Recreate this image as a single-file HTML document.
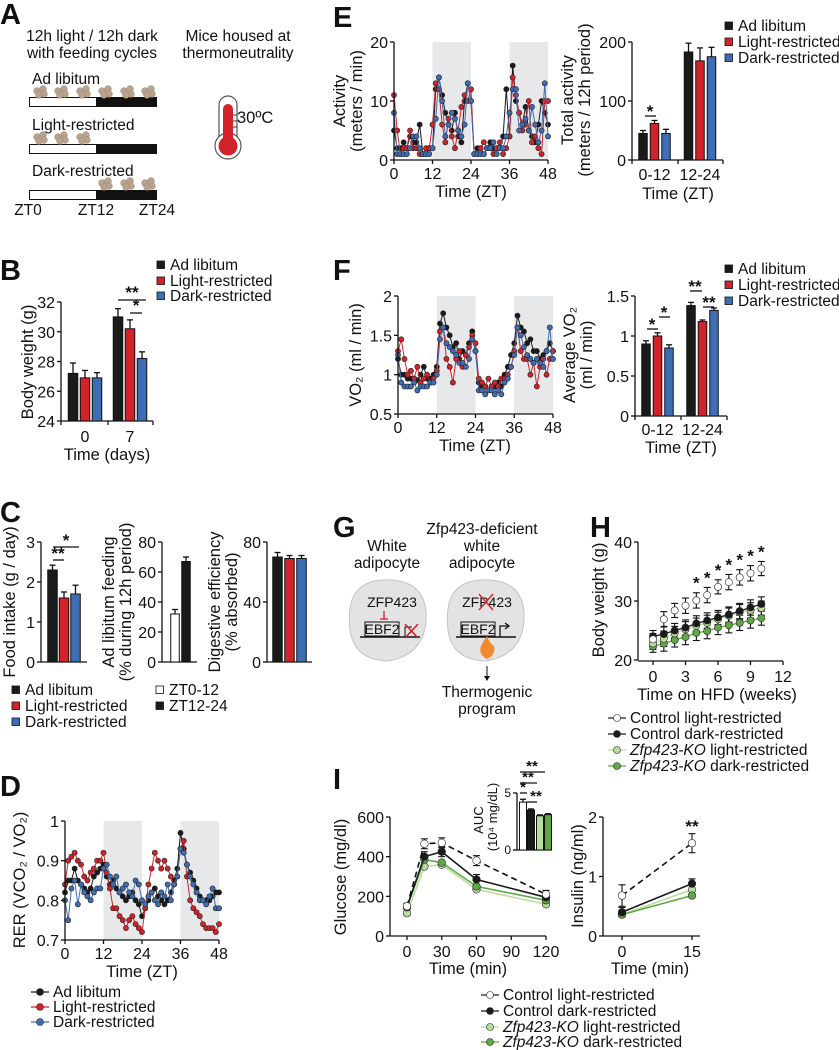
<!DOCTYPE html>
<html><head><meta charset="utf-8">
<style>
html,body{margin:0;padding:0;background:#fff;}
svg{display:block;font-family:"Liberation Sans",Arial,sans-serif;}
</style></head>
<body>
<svg id="fig" width="839" height="1050" viewBox="0 0 839 1050">
<rect x="0" y="0" width="839" height="1050" fill="#fff"/>
<!-- Panel A -->
<g font-size="15.5" fill="#111">
  <text x="0" y="24" font-size="29" font-weight="bold">A</text>
  <text x="92" y="41" text-anchor="middle">12h light / 12h dark</text>
  <text x="92" y="58" text-anchor="middle">with feeding cycles</text>
  <text x="238" y="41" text-anchor="middle">Mice housed at</text>
  <text x="238" y="58" text-anchor="middle">thermoneutrality</text>
  <text x="32" y="84">Ad libitum</text>
  <text x="32" y="130">Light-restricted</text>
  <text x="32" y="176">Dark-restricted</text>
  <g>
    <rect x="29.5" y="97.5" width="67" height="9" fill="#fff" stroke="#111"/>
    <rect x="96" y="97" width="61" height="10" fill="#111"/>
  </g>
  <g>
    <rect x="29.5" y="144.5" width="67" height="9" fill="#fff" stroke="#111"/>
    <rect x="96" y="144" width="61" height="10" fill="#111"/>
  </g>
  <g>
    <rect x="29.5" y="190.5" width="67" height="9" fill="#fff" stroke="#111"/>
    <rect x="96" y="190" width="61" height="10" fill="#111"/>
  </g>
  <g id="food"></g>
  <text x="28" y="215" text-anchor="middle">ZT0</text>
  <text x="96" y="215" text-anchor="middle">ZT12</text>
  <text x="157" y="215" text-anchor="middle">ZT24</text>
  <g>
    <rect x="219" y="96" width="18" height="50" rx="9" fill="#fff" stroke="#555" stroke-width="1.2"/>
    <circle cx="228" cy="146" r="13" fill="#fff" stroke="#555" stroke-width="1.2"/>
    <rect x="223" y="104" width="10" height="44" rx="5" fill="#d2232a"/>
    <circle cx="228" cy="146" r="9.5" fill="#d2232a"/>
    <line x1="233" y1="115" x2="237" y2="115" stroke="#333"/>
    <line x1="233" y1="121" x2="237" y2="121" stroke="#333"/>
    <line x1="233" y1="127" x2="237" y2="127" stroke="#333"/>
  </g>
  <text x="237" y="123" font-size="16.5">30ºC</text>
</g>
<!-- Panel G static -->
<g font-size="15.5" fill="#111">
  <text x="333" y="537" font-size="29" font-weight="bold">G</text>
  <text x="387" y="551" text-anchor="middle">White</text>
  <text x="387" y="568" text-anchor="middle">adipocyte</text>
  <text x="482" y="534" text-anchor="middle">Zfp423-deficient</text>
  <text x="482" y="551" text-anchor="middle">white</text>
  <text x="482" y="568" text-anchor="middle">adipocyte</text>
  <path d="M352,600 Q360,578 392,580 Q428,583 426,620 Q424,655 388,661 Q354,660 350,630 Q348,612 352,600Z" fill="#e3e3e3" stroke="#c4c4c4"/>
  <path d="M450,600 Q458,578 490,580 Q526,583 524,620 Q522,655 486,661 Q452,660 448,630 Q446,612 450,600Z" fill="#e3e3e3" stroke="#c4c4c4"/>
  <text x="392" y="607" text-anchor="middle" font-size="14">ZFP423</text>
  <line x1="384" y1="611" x2="384" y2="619" stroke="#d2232a" stroke-width="1.3"/>
  <line x1="380" y1="619" x2="388" y2="619" stroke="#d2232a" stroke-width="1.3"/>
  <rect x="365" y="622" width="34" height="14" fill="none" stroke="#111"/>
  <text x="382" y="634" text-anchor="middle" font-size="14">EBF2</text>
  <line x1="360" y1="637" x2="420" y2="637" stroke="#111" stroke-width="1.5"/>
  <path d="M405,637 V627 H412" fill="none" stroke="#111"/>
  <path d="M405,624 L418,638 M418,624 L405,638" stroke="#d2232a" stroke-width="1.6"/>
  <text x="487" y="607" text-anchor="middle" font-size="14">ZFP423</text>
  <path d="M479,594 L493,610 M493,594 L479,610" stroke="#d2232a" stroke-width="1.4"/>
  <rect x="461" y="622" width="34" height="14" fill="none" stroke="#111"/>
  <text x="478" y="634" text-anchor="middle" font-size="14">EBF2</text>
  <line x1="456" y1="637" x2="516" y2="637" stroke="#111" stroke-width="1.5"/>
  <path d="M500,637 V626 H508 M505,623 L509,626 L505,629" fill="none" stroke="#111" stroke-width="1.3"/>
  <path d="M487,659 Q478,654 481,646 Q484,640 487,636 Q490,644 494,646 Q496,655 487,659Z" fill="#f08a2c"/>
  <line x1="487" y1="666" x2="487" y2="680" stroke="#111"/>
  <path d="M484,676 L487,681 L490,676Z" fill="#111"/>
  <text x="487" y="697" text-anchor="middle">Thermogenic</text>
  <text x="487" y="714" text-anchor="middle">program</text>
</g>
</svg>
<script>
// ---------- DATA ----------
const bwDays = ['0','7'];
const bwAdLib = [27.2, 31.0];
const bwLight = [26.9, 30.2];
const bwDark = [26.9, 28.2];
const bwErrAd = [0.7, 0.55];
const bwErrLight = [0.5, 0.6];
const bwErrDark = [0.35, 0.45];

const foodIntake = [2.3, 1.6, 1.7];
const foodIntakeErr = [0.12, 0.15, 0.22];
const adLibFeeding = [32, 67];
const adLibFeedingErr = [3, 3];
const digestEff = [70, 69, 69];
const digestEffErr = [3, 2, 2];

const ZT = [0,1,2,3,4,5,6,7,8,9,10,11,12,13,14,15,16,17,18,19,20,21,22,23,24,25,26,27,28,29,30,31,32,33,34,35,36,37,38,39,40,41,42,43,44,45,46,47,48];
const rerAd = [0.82,0.85,0.85,0.88,0.85,0.84,0.83,0.82,0.83,0.86,0.87,0.88,0.89,0.86,0.84,0.85,0.83,0.82,0.81,0.8,0.81,0.82,0.8,0.79,0.76,0.78,0.8,0.82,0.83,0.81,0.8,0.79,0.8,0.82,0.85,0.88,0.97,0.93,0.89,0.87,0.85,0.83,0.81,0.8,0.8,0.8,0.81,0.82,0.82];
const rerLight = [0.84,0.9,0.91,0.92,0.9,0.89,0.86,0.85,0.87,0.88,0.9,0.9,0.92,0.87,0.83,0.78,0.78,0.76,0.75,0.73,0.75,0.76,0.74,0.73,0.72,0.78,0.84,0.88,0.92,0.9,0.88,0.9,0.88,0.86,0.84,0.86,0.93,0.95,0.86,0.8,0.78,0.77,0.76,0.74,0.73,0.73,0.73,0.72,0.74];
const rerDark = [0.8,0.75,0.83,0.85,0.79,0.84,0.82,0.81,0.8,0.82,0.83,0.83,0.88,0.89,0.86,0.84,0.86,0.82,0.83,0.84,0.82,0.81,0.85,0.84,0.8,0.79,0.81,0.82,0.8,0.79,0.82,0.81,0.84,0.8,0.84,0.86,0.93,0.92,0.89,0.86,0.84,0.82,0.8,0.8,0.79,0.81,0.83,0.78,0.78];

const actAd = [5,2,2,3,2,4,3,3,6,1,1,2,2,12,14,11,8,6,5,8,4,3,10,13,10,1,2,2,1,2,3,2,2,2,4,12,4,16,10,8,6,9,5,4,3,6,10,8,6];
const actLight = [11,5,1,2,2,5,2,2,1,1,2,2,6,13,12,6,3,7,4,2,5,9,11,10,12,1,1,2,3,2,2,1,2,3,1,2,4,14,11,8,5,6,10,3,4,2,1,10,10];
const actDark = [8,1,1,1,1,2,4,4,2,1,1,1,2,7,14,10,4,6,8,7,5,4,6,13,10,1,1,1,1,2,2,3,1,2,2,4,8,12,12,5,6,7,5,9,6,3,5,13,4];
const totActAd = [45, 183];
const totActLight = [62, 168];
const totActDark = [45, 175];
const totActErrAd = [5, 15];
const totActErrLight = [5, 22];
const totActErrDark = [7, 16];

const vo2Ad = [1.2,1.0,1.0,0.95,0.95,0.95,0.93,1.0,1.1,0.95,0.95,1.0,1.1,1.65,1.78,1.6,1.5,1.35,1.4,1.2,1.3,1.25,1.4,1.55,1.3,0.9,0.85,0.85,0.8,0.85,0.85,0.9,0.85,1.0,1.1,1.25,1.4,1.75,1.6,1.55,1.4,1.45,1.3,1.3,1.2,1.25,1.3,1.4,1.3];
const vo2Light = [1.3,1.45,1.2,1.0,1.05,0.95,1.1,0.9,0.95,1.0,0.9,0.95,1.05,1.55,1.6,1.2,1.1,0.9,1.2,1.3,1.1,1.25,1.35,1.5,1.4,0.95,0.9,0.85,0.95,0.85,0.9,0.85,0.95,0.95,1.0,1.1,1.3,1.6,1.3,1.2,1.2,1.0,1.15,0.85,1.1,1.2,1.0,1.2,1.3];
const vo2Dark = [1.25,0.9,0.85,0.85,0.85,0.9,0.8,0.85,0.85,0.85,0.9,0.9,1.0,1.45,1.6,1.4,1.35,1.3,1.25,1.15,1.15,1.1,1.2,1.45,1.3,0.8,0.8,0.75,0.8,0.8,0.75,0.8,0.75,0.9,0.95,1.1,1.25,1.6,1.5,1.35,1.25,1.2,1.15,1.2,1.15,1.1,1.3,1.6,1.2];
const avgVo2Ad = [0.9, 1.38];
const avgVo2Light = [1.0, 1.18];
const avgVo2Dark = [0.85, 1.32];
const avgVo2ErrAd = [0.04, 0.04];
const avgVo2ErrLight = [0.04, 0.02];
const avgVo2ErrDark = [0.04, 0.03];

const hfdWeeks = [0,1,2,3,4,5,6,7,8,9,10];
const hCtrlLight = [23.5,26.9,28.4,29.2,30.1,31.0,32.4,33.2,34.0,34.7,35.5];
const hCtrlDark = [24.0,24.4,25.0,25.5,26.2,26.7,27.2,27.7,28.3,28.9,29.5];
const hKoLight = [22.8,23.6,24.5,25.2,25.8,26.3,26.9,27.5,28.1,28.4,28.8];
const hKoDark = [22.3,22.8,23.4,23.9,24.6,24.9,25.5,25.9,26.3,26.7,27.1];
const hErr = [1.0,1.3,1.2,1.3,1.3,1.3,1.2,1.3,1.3,1.3,1.2];
const hStarWeeks = [4,5,6,7,8,9,10];

const gttTimes = [0,15,30,60,120];
const gCtrlLight = [150,465,470,380,210];
const gCtrlDark = [148,400,425,285,195];
const gKoLight = [115,350,360,235,160];
const gKoDark = [145,385,370,250,180];
const gErr = [15,25,25,25,20];
const aucVals = [4.2, 3.5, 3.0, 3.1];
const aucErr = [0.25, 0.1, 0.08, 0.08];

const insTimes = [0,15];
const iCtrlLight = [0.68,1.56];
const iCtrlDark = [0.4,0.88];
const iKoLight = [0.36,0.78];
const iKoDark = [0.36,0.68];
const iErr = [0.18,0.16];

// ---------- HELPERS ----------
const NS='http://www.w3.org/2000/svg';
const svg=document.getElementById('fig');
const BLK='#1a1a1a', RED='#d2232a', BLU='#3f6db3', LG='#b8dd9e', GR='#5fa845', SHADE='#e7e8ea';
const TF=16.5, LF=15.5, KF=16;
function el(tag, attrs, name, parent){
  const e=document.createElementNS(NS,tag);
  for(const k in attrs) e.setAttribute(k, attrs[k]);
  
  
  (parent||svg).appendChild(e);
  return e;
}
function txt(x,y,s,name,o){
  o=o||{};
  const e=el('text',{x:x,y:y,'font-size':o.fs||KF,'text-anchor':o.a||'start',fill:o.fill||'#111'},name);
  if(o.it) e.setAttribute('font-style','italic');
  if(o.bold) e.setAttribute('font-weight','bold');
  if(o.rot) e.setAttribute('transform','rotate(-90 '+x+' '+y+')');
  e.textContent=s;
  return e;
}
function lin(d0,d1,r0,r1){return function(v){return r0+(v-d0)*(r1-r0)/(d1-d0);};}
function ln(x1,y1,x2,y2,name,o){o=o||{};return el('line',{x1:x1,y1:y1,x2:x2,y2:y2,stroke:o.c||'#111','stroke-width':o.w||1.3,'stroke-dasharray':o.d||'none'},name);}
function yAxis(x,sc,ticks,labels,name,fs){
  ln(x,sc(ticks[0]),x,sc(ticks[ticks.length-1]),name+'-line');
  ticks.forEach(function(t,i){
    ln(x-4,sc(t),x,sc(t),name+'-tick');
    txt(x-6,sc(t)+6,labels[i],name+'-label',{a:'end',fs:fs||KF});
  });
}
function xAxisNum(y,sc,ticks,labels,name,x0,x1){
  ln(x0,y,x1,y,name+'-line');
  ticks.forEach(function(t,i){
    ln(sc(t),y,sc(t),y+4,name+'-tick');
    txt(sc(t),y+19,labels[i],name+'-label',{a:'middle'});
  });
}
function bars(cx,offs,vals,errs,colors,w,sy,base,name){
  vals.forEach(function(v,i){
    const x=cx+offs[i]-w/2, y=sy(v);
    ln(x+w/2,y,x+w/2,sy(v+errs[i]),name+'-error');
    ln(x+w/2-3,sy(v+errs[i]),x+w/2+3,sy(v+errs[i]),name+'-error-cap');
    el('rect',{x:x,y:y,width:w,height:base-y,fill:colors[i],stroke:'#111','stroke-width':1},name);
  });
}
function series(xs,ys,sx,sy,color,name,o){
  o=o||{};
  const pts=xs.map(function(x,i){return sx(x)+','+sy(ys[i]);}).join(' ');
  el('polyline',{points:pts,fill:'none',stroke:o.lc||color,'stroke-width':o.lw||1,'stroke-dasharray':o.dash||'none'},name+'-line');
  xs.forEach(function(x,i){
    el('circle',{cx:sx(x),cy:sy(ys[i]),r:o.r||2.6,fill:color,stroke:o.stroke||'#222','stroke-width':o.sw||0.6},name+'-point');
  });
}
function errs(xs,ys,es,sx,sy,name){
  xs.forEach(function(x,i){
    ln(sx(x),sy(ys[i]-es[i]),sx(x),sy(ys[i]+es[i]),name+'-error',{w:1.1});
    ln(sx(x)-3.5,sy(ys[i]+es[i]),sx(x)+3.5,sy(ys[i]+es[i]),name+'-cap',{w:1.1});
    ln(sx(x)-3.5,sy(ys[i]-es[i]),sx(x)+3.5,sy(ys[i]-es[i]),name+'-cap',{w:1.1});
  });
}
function sqLegend(x,y,color,label,name){
  el('rect',{x:x,y:y-9,width:7.5,height:7.5,fill:color,stroke:'#111','stroke-width':0.8},name+'-swatch');
  txt(x+13,y,label,name,{fs:LF});
}
function dotLegend(x,y,color,label,name,lc,it){
  ln(x-9,y-5,x+9,y-5,name+'-line',{c:lc||color,w:1.2});
  el('circle',{cx:x,cy:y-5,r:3.5,fill:color,stroke:'#222','stroke-width':0.6},name+'-marker');
  if(it){
    const t=txt(x+13,y,'',name,{fs:LF});
    const a=document.createElementNS(NS,'tspan'); a.setAttribute('font-style','italic'); a.textContent=it; t.appendChild(a);
    const b=document.createElementNS(NS,'tspan'); b.textContent=label; t.appendChild(b);
  } else txt(x+13,y,label,name,{fs:LF});
}
function shade(sx,a,b,yTop,yBot,name){el('rect',{x:sx(a),y:yTop,width:sx(b)-sx(a),height:yBot-yTop,fill:SHADE},name);}

// ---------- PANEL A food ----------
const foodG=document.getElementById('food');
[[40,91],[61,91],[83,91],[105,91],[127,91],[148,91],[40,137],[61,137],[83,137],[105,183],[127,183],[148,183]].forEach(function(p){
  [[-3,0],[3,-2],[4,3],[-1,4]].forEach(function(d){
    el('circle',{cx:p[0]+d[0],cy:p[1]+d[1],r:3.4,fill:'#b8a48e',stroke:'#9c8670','stroke-width':0.5},'food-pellet',foodG);
  });
});

// ---------- PANEL B ----------
txt(0,280,'B','panel-b-letter',{fs:29,bold:true});
(function(){
  const sy=lin(24,32,421,302);
  yAxis(61,sy,[24,26,28,30,32],['24','26','28','30','32'],'b-y-axis');
  ln(61,421,153,421,'b-x-axis');
  [61,108,153].forEach(function(x){ln(x,421,x,425,'b-x-tick');});
  const centers=[85,130];
  bwDays.forEach(function(d,i){
    txt(centers[i],442,d,'b-x-label',{a:'middle'});
    bars(centers[i],[-12,0,12],[bwAdLib[i],bwLight[i],bwDark[i]],[bwErrAd[i],bwErrLight[i],bwErrDark[i]],[BLK,RED,BLU],9.5,sy,421,'b-bar-day'+d);
  });
  txt(107,460,'Time (days)','b-x-title',{a:'middle',fs:TF});
  txt(33,362,'Body weight (g)','b-y-title',{a:'middle',fs:TF,rot:true});
  ln(118,300,146,300,'b-sig-line'); txt(132,298,'**','b-sig-star',{a:'middle',fs:17,bold:true});
  ln(130,313,142,313,'b-sig-line'); txt(136,311,'*','b-sig-star',{a:'middle',fs:17,bold:true});
  sqLegend(157,270,BLK,'Ad libitum','b-legend-ad-libitum');
  sqLegend(157,286,RED,'Light-restricted','b-legend-light-restricted');
  sqLegend(157,301,BLU,'Dark-restricted','b-legend-dark-restricted');
})();

// ---------- PANEL C ----------
txt(0,522,'C','panel-c-letter',{fs:29,bold:true});
(function(){
  const s1=lin(0,3,662,542);
  yAxis(41,s1,[0,1,2,3],['0','1','2','3'],'c1-y-axis');
  ln(41,662,87,662,'c1-x-axis');
  bars(64,[-11.5,0,11.5],foodIntake,foodIntakeErr,[BLK,RED,BLU],9.5,s1,662,'c-food-intake-bar');
  txt(15,602,'Food intake (g / day)','c1-y-title',{a:'middle',fs:TF,rot:true});
  ln(53,560,64,560,'c-sig-line'); txt(58,559,'**','c-sig-star',{a:'middle',fs:17,bold:true});
  ln(53,547,79,547,'c-sig-line'); txt(66,546,'*','c-sig-star',{a:'middle',fs:17,bold:true});

  const s2=lin(0,80,662,542);
  yAxis(162,s2,[0,20,40,60,80],['0','20','40','60','80'],'c2-y-axis');
  ln(162,662,197,662,'c2-x-axis');
  bars(180.5,[-5.5,5.5],adLibFeeding,adLibFeedingErr,['#fff',BLK],8.5,s2,662,'c-ad-lib-feeding-bar');
  txt(114,602,'Ad libitum feeding','c2-y-title',{a:'middle',fs:TF,rot:true});
  txt(131,602,'(% during 12h period)','c2-y-title-2',{a:'middle',fs:TF,rot:true});

  const s3=lin(0,80,662,542);
  yAxis(267,s3,[0,40,80],['0','40','80'],'c3-y-axis');
  ln(267,662,312,662,'c3-x-axis');
  bars(289.5,[-12,0,12],digestEff,digestEffErr,[BLK,RED,BLU],9.5,s3,662,'c-digestive-efficiency-bar');
  txt(220,602,'Digestive efficiency','c3-y-title',{a:'middle',fs:TF,rot:true});
  txt(237,602,'(% absorbed)','c3-y-title-2',{a:'middle',fs:TF,rot:true});

  sqLegend(12,695,BLK,'Ad libitum','c-legend-ad-libitum');
  sqLegend(12,711,RED,'Light-restricted','c-legend-light-restricted');
  sqLegend(12,727,BLU,'Dark-restricted','c-legend-dark-restricted');
  sqLegend(156,695,'#fff','ZT0-12','c-legend-zt0-12');
  sqLegend(156,711,BLK,'ZT12-24','c-legend-zt12-24');
})();

// ---------- PANEL D ----------
txt(0,796,'D','panel-d-letter',{fs:29,bold:true});
(function(){
  const sx=lin(0,48,65,219), sy=lin(0.7,1.0,940,821);
  shade(sx,12,24,821,940,'d-dark-phase'); shade(sx,36,48,821,940,'d-dark-phase');
  series(ZT,rerAd,sx,sy,BLK,'d-ad-libitum');
  series(ZT,rerLight,sx,sy,RED,'d-light-restricted',{lc:'#d2232a'});
  series(ZT,rerDark,sx,sy,BLU,'d-dark-restricted',{lc:'#3f6db3'});
  yAxis(65,sy,[0.7,0.8,0.9,1.0],['0.7','0.8','0.9','1'],'d-y-axis');
  xAxisNum(940,sx,[0,12,24,36,48],['0','12','24','36','48'],'d-x-axis',65,219);
  txt(142,977,'Time (ZT)','d-x-title',{a:'middle',fs:TF});
  txt(25,880,'RER (VCO\u2082 / VO\u2082)','d-y-title',{a:'middle',fs:TF,rot:true});
  dotLegend(40,997,BLK,'Ad libitum','d-legend-ad-libitum');
  dotLegend(40,1012,RED,'Light-restricted','d-legend-light-restricted');
  dotLegend(40,1027,BLU,'Dark-restricted','d-legend-dark-restricted');
})();

// ---------- PANEL E ----------
txt(333,27,'E','panel-e-letter',{fs:29,bold:true});
(function(){
  const sx=lin(0,48,394,548), sy=lin(0,20,160,42);
  shade(sx,12,24,42,160,'e-dark-phase'); shade(sx,36,48,42,160,'e-dark-phase');
  series(ZT,actAd,sx,sy,BLK,'e-ad-libitum');
  series(ZT,actLight,sx,sy,RED,'e-light-restricted');
  series(ZT,actDark,sx,sy,BLU,'e-dark-restricted');
  yAxis(394,sy,[0,10,20],['0','10','20'],'e-y-axis');
  xAxisNum(160,sx,[0,12,24,36,48],['0','12','24','36','48'],'e-x-axis',394,548);
  txt(471,197,'Time (ZT)','e-x-title',{a:'middle',fs:TF});
  txt(345,101,'Activity','e-y-title',{a:'middle',fs:TF,rot:true});
  txt(362,101,'(meters / min)','e-y-title-2',{a:'middle',fs:TF,rot:true});

  const s2=lin(0,200,160,42);
  yAxis(632,s2,[0,100,200],['0','100','200'],'e2-y-axis');
  ln(632,160,723,160,'e2-x-axis');
  [632,678,723].forEach(function(x){ln(x,160,x,164,'e2-x-tick');});
  const cats=['0-12','12-24'], cs=[654.5,700];
  cats.forEach(function(c,i){
    bars(cs[i],[-11.5,0,11.5],[totActAd[i],totActLight[i],totActDark[i]],[totActErrAd[i],totActErrLight[i],totActErrDark[i]],[BLK,RED,BLU],8.5,s2,160,'e-total-activity-bar');
    txt(cs[i],180,c,'e2-x-label',{a:'middle'});
  });
  txt(678,199,'Time (ZT)','e2-x-title',{a:'middle',fs:TF});
  txt(573,100,'Total activity','e2-y-title',{a:'middle',fs:TF,rot:true});
  txt(590,100,'(meters / 12h period)','e2-y-title-2',{a:'middle',fs:TF,rot:true});
  ln(645,116,656,116,'e-sig-line'); txt(650,117,'*','e-sig-star',{a:'middle',fs:17,bold:true});
  sqLegend(725,31,BLK,'Ad libitum','e-legend-ad-libitum');
  sqLegend(725,47,RED,'Light-restricted','e-legend-light-restricted');
  sqLegend(725,63,BLU,'Dark-restricted','e-legend-dark-restricted');
})();

// ---------- PANEL F ----------
txt(333,280,'F','panel-f-letter',{fs:29,bold:true});
(function(){
  const sx=lin(0,48,398,553), sy=lin(0.5,2,414,296);
  shade(sx,12,24,296,414,'f-dark-phase'); shade(sx,36,48,296,414,'f-dark-phase');
  series(ZT,vo2Ad,sx,sy,BLK,'f-ad-libitum');
  series(ZT,vo2Light,sx,sy,RED,'f-light-restricted');
  series(ZT,vo2Dark,sx,sy,BLU,'f-dark-restricted');
  yAxis(398,sy,[0.5,1,1.5,2],['0.5','1','1.5','2'],'f-y-axis');
  xAxisNum(414,sx,[0,12,24,36,48],['0','12','24','36','48'],'f-x-axis',398,553);
  txt(475,451,'Time (ZT)','f-x-title',{a:'middle',fs:TF});
  txt(361,355,'VO\u2082 (ml / min)','f-y-title',{a:'middle',fs:TF,rot:true});

  const s2=lin(0,1.5,416,296);
  yAxis(635,s2,[0,0.5,1,1.5],['0','0.5','1','1.5'],'f2-y-axis');
  ln(635,416,727,416,'f2-x-axis');
  [635,681,727].forEach(function(x){ln(x,416,x,420,'f2-x-tick');});
  const cats=['0-12','12-24'], cs=[657.5,702.5];
  cats.forEach(function(c,i){
    bars(cs[i],[-11.5,0,11.5],[avgVo2Ad[i],avgVo2Light[i],avgVo2Dark[i]],[avgVo2ErrAd[i],avgVo2ErrLight[i],avgVo2ErrDark[i]],[BLK,RED,BLU],8.5,s2,416,'f-average-vo2-bar');
    txt(cs[i],435,c,'f2-x-label',{a:'middle'});
  });
  txt(681,453,'Time (ZT)','f2-x-title',{a:'middle',fs:TF});
  txt(575,355,'Average VO\u2082','f2-y-title',{a:'middle',fs:TF,rot:true});
  txt(592,355,'(ml / min)','f2-y-title-2',{a:'middle',fs:TF,rot:true});
  ln(647,329,658,329,'f-sig-line'); txt(652,330,'*','f-sig-star',{a:'middle',fs:17,bold:true});
  ln(659,317,670,317,'f-sig-line'); txt(664,318,'*','f-sig-star',{a:'middle',fs:17,bold:true});
  ln(690,291,702,291,'f-sig-line'); txt(695,292,'**','f-sig-star',{a:'middle',fs:17,bold:true});
  ln(703,307,714,307,'f-sig-line'); txt(709,308,'**','f-sig-star',{a:'middle',fs:17,bold:true});
  sqLegend(725,274,BLK,'Ad libitum','f-legend-ad-libitum');
  sqLegend(725,290,RED,'Light-restricted','f-legend-light-restricted');
  sqLegend(725,306,BLU,'Dark-restricted','f-legend-dark-restricted');
})();

// ---------- PANEL H ----------
txt(590,537,'H','panel-h-letter',{fs:29,bold:true});
(function(){
  const sx=lin(0,12,653,783), sy=lin(20,40,660,542);
  errs(hfdWeeks,hCtrlLight,hErr,sx,sy,'h-control-light');
  errs(hfdWeeks,hCtrlDark,hErr,sx,sy,'h-control-dark');
  errs(hfdWeeks,hKoLight,hErr,sx,sy,'h-ko-light');
  errs(hfdWeeks,hKoDark,hErr,sx,sy,'h-ko-dark');
  series(hfdWeeks,hKoDark,sx,sy,GR,'h-ko-dark',{r:3.6,lc:GR,lw:1.3});
  series(hfdWeeks,hKoLight,sx,sy,LG,'h-ko-light',{r:3.6,lc:LG,lw:1.3});
  series(hfdWeeks,hCtrlDark,sx,sy,BLK,'h-control-dark',{r:3.6,lw:1.3});
  series(hfdWeeks,hCtrlLight,sx,sy,'#fff','h-control-light',{r:3.6,lw:1.3,dash:'4,3'});
  hStarWeeks.forEach(function(w){
    const i=hfdWeeks.indexOf(w);
    txt(sx(w),sy(hCtrlLight[i]+hErr[i])-4,'*','h-sig-star',{a:'middle',fs:17,bold:true});
  });
  yAxis(638,sy,[20,30,40],['20','30','40'],'h-y-axis');
  ln(638,661,783,661,'h-x-axis');
  [0,3,6,9,12].forEach(function(t){ln(sx(t),661,sx(t),665,'h-x-tick'); txt(sx(t),682,String(t),'h-x-label',{a:'middle'});});
  txt(717,700,'Time on HFD (weeks)','h-x-title',{a:'middle',fs:TF});
  txt(604,600,'Body weight (g)','h-y-title',{a:'middle',fs:TF,rot:true});
  dotLegend(617,723,'#fff','Control light-restricted','h-legend-control-light','#222');
  dotLegend(617,739,BLK,'Control dark-restricted','h-legend-control-dark');
  dotLegend(617,755,LG,' light-restricted','h-legend-ko-light',LG,'Zfp423-KO');
  dotLegend(617,771,GR,' dark-restricted','h-legend-ko-dark',GR,'Zfp423-KO');
})();

// ---------- PANEL I ----------
txt(333,789,'I','panel-i-letter',{fs:29,bold:true});
(function(){
  const sx=lin(0,120,407,546), sy=lin(0,600,936,817);
  errs(gttTimes,gCtrlLight,gErr,sx,sy,'i-glucose-control-light');
  errs(gttTimes,gCtrlDark,gErr,sx,sy,'i-glucose-control-dark');
  series(gttTimes,gKoLight,sx,sy,LG,'i-glucose-ko-light',{r:3.8,lc:LG,lw:1.6});
  series(gttTimes,gKoDark,sx,sy,GR,'i-glucose-ko-dark',{r:3.8,lc:GR,lw:1.6});
  series(gttTimes,gCtrlDark,sx,sy,BLK,'i-glucose-control-dark',{r:3.8,lw:1.6});
  series(gttTimes,gCtrlLight,sx,sy,'#fff','i-glucose-control-light',{r:3.8,lw:1.6,lc:'#111',dash:'6,4'});
  yAxis(390,sy,[0,200,400,600],['0','200','400','600'],'i-glucose-y-axis');
  ln(390,936,546,936,'i-glucose-x-axis');
  [0,30,60,90,120].forEach(function(t){ln(sx(t),936,sx(t),940,'i-glucose-x-tick'); txt(sx(t),957,String(t),'i-glucose-x-label',{a:'middle'});});
  txt(468,974,'Time (min)','i-glucose-x-title',{a:'middle',fs:TF});
  txt(346,877,'Glucose (mg/dl)','i-glucose-y-title',{a:'middle',fs:TF,rot:true});

  const sa=lin(0,5,850,793);
  ln(517,850,517,793,'auc-y-axis');
  ln(513,850,517,850,'auc-tick'); ln(513,793,517,793,'auc-tick');
  txt(511,854,'0','auc-tick-label',{a:'end',fs:12}); txt(511,797,'5','auc-tick-label',{a:'end',fs:12});
  ln(517,850,552,850,'auc-x-axis');
  bars(535,[-12,-4,5,13],aucVals,aucErr,['#fff',BLK,LG,GR],7,sa,850,'auc-bar');
  txt(483,820,'AUC','auc-y-title',{a:'middle',fs:13,rot:true});
  txt(497,817,'(10\u2074 mg/dL)','auc-y-title-2',{a:'middle',fs:13,rot:true});
  ln(520,772,545,772,'auc-sig-line'); txt(532,771,'**','auc-sig-star',{a:'middle',fs:15,bold:true});
  ln(520,783,537,783,'auc-sig-line'); txt(528,782,'**','auc-sig-star',{a:'middle',fs:15,bold:true});
  ln(520,793,527,793,'auc-sig-line'); txt(523,792,'*','auc-sig-star',{a:'middle',fs:15,bold:true});
  ln(527,802,537,802,'auc-sig-line'); txt(536,801,'**','auc-sig-star',{a:'middle',fs:15,bold:true});

  const ix=lin(0,15,622,692), iy=lin(0,2,936,817);
  errs(insTimes,iCtrlLight,iErr,ix,iy,'i-insulin-control-light');
  errs(insTimes,iCtrlDark,[0.08,0.08],ix,iy,'i-insulin-control-dark');
  series(insTimes,iKoLight,ix,iy,LG,'i-insulin-ko-light',{r:3.8,lc:LG,lw:1.6});
  series(insTimes,iKoDark,ix,iy,GR,'i-insulin-ko-dark',{r:3.8,lc:GR,lw:1.6});
  series(insTimes,iCtrlDark,ix,iy,BLK,'i-insulin-control-dark',{r:3.8,lw:1.6});
  series(insTimes,iCtrlLight,ix,iy,'#fff','i-insulin-control-light',{r:3.8,lw:1.6,lc:'#111',dash:'6,4'});
  yAxis(603,iy,[0,1,2],['0','1','2'],'i-insulin-y-axis');
  ln(603,936,700,936,'i-insulin-x-axis');
  [0,15].forEach(function(t){ln(ix(t),936,ix(t),940,'i-insulin-x-tick'); txt(ix(t),957,String(t),'i-insulin-x-label',{a:'middle'});});
  txt(650,974,'Time (min)','i-insulin-x-title',{a:'middle',fs:TF});
  txt(583,876,'Insulin (ng/ml)','i-insulin-y-title',{a:'middle',fs:TF,rot:true});
  txt(692,832,'**','i-insulin-sig-star',{a:'middle',fs:17,bold:true});

  dotLegend(490,1000,'#fff','Control light-restricted','i-legend-control-light','#222');
  dotLegend(490,1016,BLK,'Control dark-restricted','i-legend-control-dark');
  dotLegend(490,1032,LG,' light-restricted','i-legend-ko-light',LG,'Zfp423-KO');
  dotLegend(490,1047,GR,' dark-restricted','i-legend-ko-dark',GR,'Zfp423-KO');
})();
</script>
</body></html>
